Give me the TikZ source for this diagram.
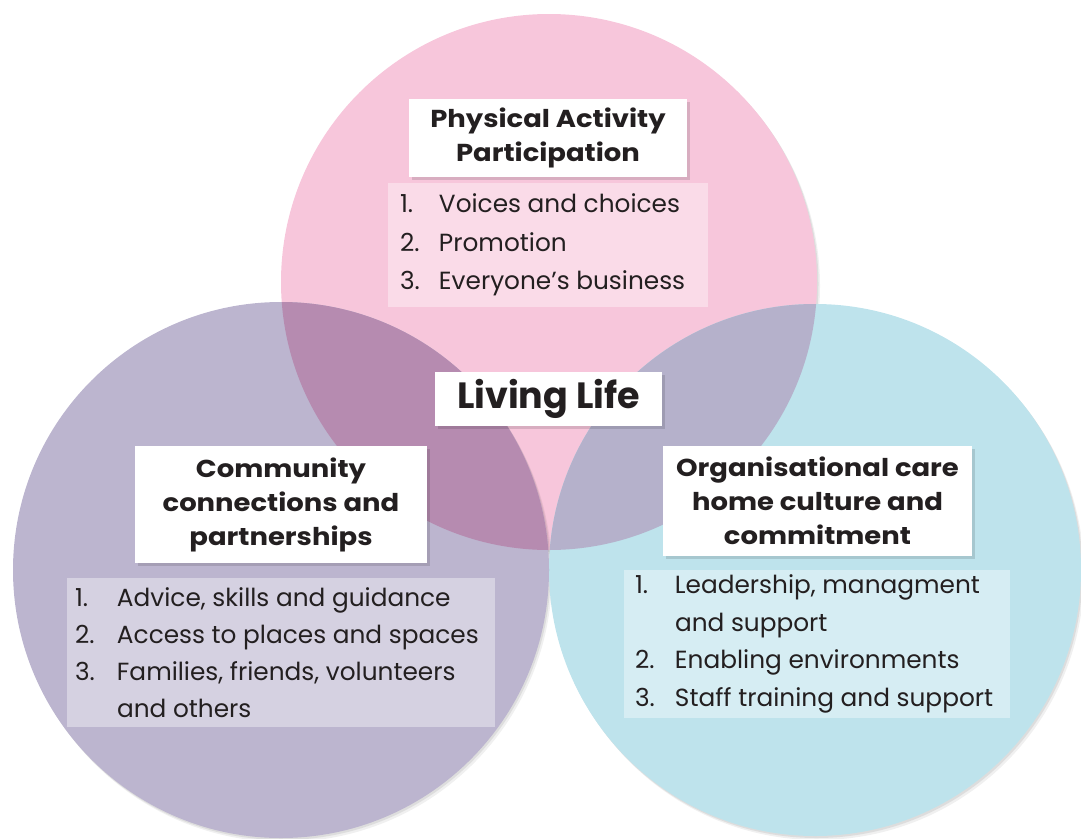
\documentclass[tikz,border=0pt]{standalone}
\usepackage{fontspec}
\setmainfont{Poppins}
\newfontfamily\titlefont{Poppins}[FakeStretch=1.12]
\definecolor{pinkc}{HTML}{F7C6DB}
\definecolor{purplec}{HTML}{BCB5CF}
\definecolor{bluec}{HTML}{BEE3EC}
\definecolor{mauvec}{HTML}{B68BB0}
\definecolor{pinkbluec}{HTML}{B5B1CB}
\definecolor{purplebluec}{HTML}{8BA0BF}
\definecolor{textc}{HTML}{231F20}
\begin{document}
\begin{tikzpicture}[x=1pt,y=-1pt,
  titlebox/.style={fill=white, text=textc, align=center, inner sep=0pt,
    font=\titlefont\bfseries\fontsize{24.5}{34}\selectfont},
  listbg/.style={fill=white, fill opacity=0.38, draw=none, inner sep=0pt},
  listtext/.style={anchor=west, text=textc, align=left, inner sep=0pt,
    font=\fontsize{24.8}{38.5}\selectfont}
]
\useasboundingbox (0,0) rectangle (1081,838);
% circle shadows
\foreach \dx/\dy/\op in {1.5/2/0.08, 3/4/0.06}{
  \fill[black, opacity=\op] (549+\dx,282+\dy) circle[radius=268pt];
}
\fill[pinkc] (549,282) circle[radius=268pt];
\foreach \dx/\dy/\op in {1.5/2/0.08, 3/4/0.06}{
  \fill[black, opacity=\op] (281+\dx,570+\dy) circle[radius=268pt];
}
\fill[purplec] (281,570) circle[radius=268pt];
\foreach \dx/\dy/\op in {1.5/2/0.08, 3/4/0.06}{
  \fill[black, opacity=\op] (815+\dx,570+\dy) circle[radius=266pt];
}
\fill[bluec] (815,570) circle[radius=266pt];
\begin{scope}
  \clip (549,282) circle[radius=268pt];
  \fill[mauvec] (281,570) circle[radius=268pt];
  \fill[pinkbluec] (815,570) circle[radius=266pt];
\end{scope}
\begin{scope}
  \clip (281,570) circle[radius=268pt];
  \fill[purplebluec] (815,570) circle[radius=266pt];
\end{scope}

% title box shadows
\fill[black, opacity=0.12] (412,102) rectangle (690,180);
\fill[black, opacity=0.12] (438,375) rectangle (665,429);
\fill[black, opacity=0.12] (138,449) rectangle (430,566);
\fill[black, opacity=0.12] (666,449) rectangle (975,559);

% Pink
\node[titlebox, minimum width=278pt, minimum height=78pt] (pt) at (548,138)
  {Physical Activity\\Participation};
\node[listbg, minimum width=320pt, minimum height=124pt] (pl) at (548,245) {};
\node[listtext] (plt) at ([xshift=12pt]pl.west)
  {\makebox[39pt][l]{1.}Voices and choices\\
   \makebox[39pt][l]{2.}Promotion\\
   \makebox[39pt][l]{3.}Everyone’s business};

% Centre
\node[titlebox, font=\bfseries\fontsize{36.5}{40}\selectfont, minimum width=227pt, minimum height=54pt] (ll) at (548.5,399)
  {Living Life};

% Purple
\node[titlebox, minimum width=292pt, minimum height=117pt] (ct) at (281,504.5)
  {Community\\connections and\\partnerships};
\node[listbg, minimum width=428pt, minimum height=149pt] (cl) at (281,652.5) {};
\node[listtext, font=\fontsize{24.8}{37}\selectfont] (clt) at ([xshift=8pt]cl.west)
  {\makebox[42pt][l]{1.}Advice, skills and guidance\\
   \makebox[42pt][l]{2.}Access to places and spaces\\
   \makebox[42pt][l]{3.}Families, friends, volunteers\\
   \hspace*{42pt}and others};

% Blue
\node[titlebox, minimum width=309pt, minimum height=110pt] (ot) at (817.5,501)
  {Organisational care\\home culture and\\commitment};
\node[listbg, minimum width=386pt, minimum height=148pt] (ol) at (817,644) {};
\node[listtext, font=\fontsize{24.8}{37.5}\selectfont] (olt) at ([xshift=11pt]ol.west)
  {\makebox[40pt][l]{1.}Leadership, managment\\
   \hspace*{40pt}and support\\
   \makebox[40pt][l]{2.}Enabling environments\\
   \makebox[40pt][l]{3.}Staff training and support};
\end{tikzpicture}
\end{document}
